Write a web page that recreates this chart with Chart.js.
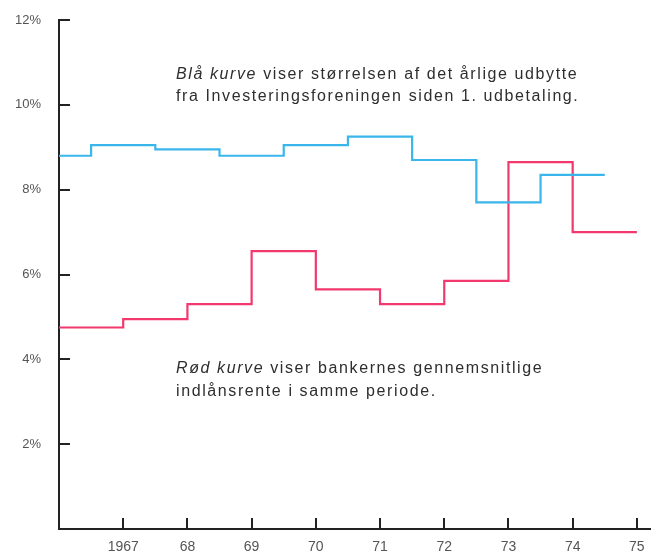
<!DOCTYPE html>
<html><head><meta charset="utf-8">
<script src="https://cdn.jsdelivr.net/npm/chart.js@4"></script>
<style>html,body{margin:0;padding:0;background:#fff}#wrap{width:651px;height:554px;position:relative}</style>
</head><body><div id="wrap"><canvas id="c"></canvas></div>
<script>
// Data
const blueYears = [1966, 1966.5, 1967.5, 1968.5, 1969.5, 1970.5, 1971.5, 1972.5, 1973.5, 1974.5];
const blueRates = [8.8, 9.05, 8.95, 8.8, 9.05, 9.25, 8.7, 7.7, 8.35, 8.35];
const redYears = [1966, 1967, 1968, 1969, 1970, 1971, 1972, 1973, 1974, 1975];
const redRates = [4.75, 4.95, 5.3, 6.55, 5.65, 5.3, 5.85, 8.65, 7.0, 7.0];
const xTickYears = [1967, 1968, 1969, 1970, 1971, 1972, 1973, 1974, 1975];
const xTickLabels = ['1967', '68', '69', '70', '71', '72', '73', '74', '75'];
const yTickValues = [2, 4, 6, 8, 10, 12];
const blueNote = ['Blå kurve', ' viser størrelsen af det årlige udbytte', 'fra Investeringsforeningen siden 1. udbetaling.'];
const redNote = ['Rød kurve', ' viser bankernes gennemsnitlige', 'indlånsrente i samme periode.'];

const FONT = '"Liberation Sans", Arial, Helvetica, sans-serif';
const TEXT = '#2e2e2e';

const extras = {
  id: 'extras',
  afterDraw(chart) {
    const ctx = chart.ctx;
    const xs = chart.scales.x, ys = chart.scales.y;
    const left = chart.chartArea.left, bottom = chart.chartArea.bottom;
    ctx.save();
    ctx.strokeStyle = '#222';
    ctx.lineWidth = 2;
    ctx.beginPath();
    yTickValues.forEach(v => {
      const py = Math.round(ys.getPixelForValue(v));
      ctx.moveTo(left, py); ctx.lineTo(left + 11, py);
    });
    xTickYears.forEach(v => {
      const px = Math.round(xs.getPixelForValue(v));
      ctx.moveTo(px, bottom); ctx.lineTo(px, bottom - 11);
    });
    ctx.stroke();

    ctx.fillStyle = TEXT;
    ctx.textBaseline = 'middle';
    ctx.textAlign = 'left';
    const note = (lines, x, y1, y2) => {
      ctx.letterSpacing = '1.6px';
      ctx.font = 'italic 16px ' + FONT;
      ctx.fillText(lines[0], x, y1);
      const w = ctx.measureText(lines[0]).width;
      ctx.font = '16px ' + FONT;
      ctx.fillText(lines[1], x + w, y1);
      ctx.fillText(lines[2], x, y2);
      ctx.letterSpacing = '0px';
    };
    note(blueNote, 176, 75, 97);
    note(redNote, 176, 369, 392);
    ctx.restore();
  }
};

new Chart(document.getElementById('c'), {
  type: 'line',
  data: {
    datasets: [
      {
        data: blueYears.map((x, i) => ({x, y: blueRates[i]})),
        borderColor: '#3ab6ea', borderWidth: 2.2, stepped: true,
        pointRadius: 0, pointHoverRadius: 0, fill: false
      },
      {
        data: redYears.map((x, i) => ({x, y: redRates[i]})),
        borderColor: '#f2386c', borderWidth: 2.2, stepped: true,
        pointRadius: 0, pointHoverRadius: 0, fill: false
      }
    ]
  },
  options: {
    responsive: true,
    maintainAspectRatio: false,
    animation: false,
    layout: {autoPadding: false, padding: {top: 20, right: 0, left: 0, bottom: 0}},
    plugins: {legend: {display: false}, tooltip: {enabled: false}},
    scales: {
      x: {
        type: 'linear', min: 1966, max: 1975.22,
        afterBuildTicks: s => { s.ticks = xTickYears.map(v => ({value: v})); },
        afterFit: s => { s.height = 25; },
        ticks: {
          autoSkip: false, maxRotation: 0, padding: 0,
          color: '#555', font: {family: FONT, size: 14},
          callback: (v) => { const i = xTickYears.indexOf(v); return i >= 0 ? xTickLabels[i] : ''; }
        },
        grid: {display: false, drawTicks: true, tickLength: 10},
        border: {display: true, color: '#222', width: 2}
      },
      y: {
        type: 'linear', min: 0, max: 12,
        afterBuildTicks: s => { s.ticks = yTickValues.map(v => ({value: v})); },
        afterFit: s => { s.width = 59; },
        ticks: {
          padding: 0, color: '#555', font: {family: FONT, size: 13},
          callback: v => v + '%'
        },
        grid: {display: false, drawTicks: true, tickLength: 18},
        border: {display: true, color: '#222', width: 2}
      }
    }
  },
  plugins: [extras]
});
</script>
</body></html>
